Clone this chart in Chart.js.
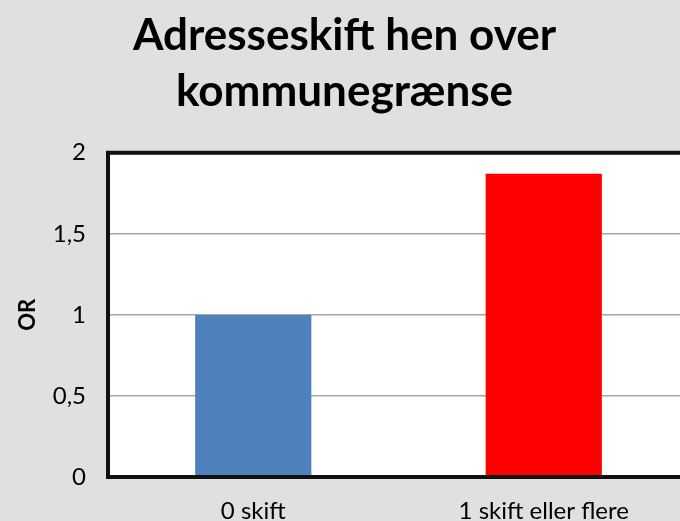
<!DOCTYPE html>
<html>
<head>
<meta charset="utf-8">
<script src="https://cdn.jsdelivr.net/npm/chart.js@4"></script>
<style>
html,body{margin:0;padding:0;background:#e0e0e0;overflow:hidden;width:680px;height:521px;}
#wrap{width:694px;height:521px;}
</style>
</head>
<body>
<div id="wrap"><canvas id="c" width="694" height="521"></canvas></div>
<script>
const categories = ["0 skift", "1 skift eller flere"];
const orValues = [1.0, 1.87];
const barColors = ["#4f81bd", "#ff0000"];
const titleLines = ["Adresseskift hen over", "kommunegrænse"];
const yTitle = "OR";

const frame = {
  id: 'frame',
  beforeDraw(chart) {
    const a = chart.chartArea, ctx = chart.ctx;
    ctx.save();
    ctx.fillStyle = '#ffffff';
    ctx.fillRect(a.left, a.top, a.right - a.left, a.bottom - a.top);
    ctx.restore();
  },
  afterDatasetsDraw(chart) {
    const a = chart.chartArea, ctx = chart.ctx;
    ctx.save();
    ctx.strokeStyle = '#111';
    ctx.lineWidth = 4;
    ctx.strokeRect(a.left, a.top, a.right - a.left, a.bottom - a.top);
    ctx.restore();
  }
};

new Chart(document.getElementById('c'), {
  type: 'bar',
  data: {
    labels: categories,
    datasets: [{ data: orValues, backgroundColor: barColors, borderWidth: 0,
      categoryPercentage: 1, barPercentage: 0.4 }]
  },
  options: {
    responsive: false,
    animation: false,
    layout: { padding: { top: 8, right: 5, bottom: 0, left: 0 } },
    plugins: {
      legend: { display: false },
      tooltip: { enabled: false },
      title: {
        display: true, text: titleLines, color: '#000',
        font: { family: 'Lato', weight: 'bold', size: 44, lineHeight: 1.27 },
        padding: { top: 0, bottom: 33 }
      }
    },
    scales: {
      x: {
        afterFit(s) { s.height = 44; },
        grid: { display: false, drawTicks: false },
        border: { display: false },
        ticks: { color: '#000', padding: 20, font: { family: 'Lato', size: 24 } }
      },
      y: {
        min: 0, max: 2,
        afterFit(s) { s.width = 108; },
        grid: { color: '#a6a6a6', lineWidth: 1.5, drawTicks: false },
        border: { display: false },
        ticks: { stepSize: 0.5, color: '#000', padding: 22,
          font: { family: 'Lato', size: 24 },
          callback: v => String(v).replace('.', ',') },
        title: { display: true, text: yTitle, color: '#000',
          font: { family: 'Lato', weight: 'bold', size: 22 }, padding: { top: 15, bottom: 0 } }
      }
    }
  },
  plugins: [frame]
});
</script>
</body>
</html>
